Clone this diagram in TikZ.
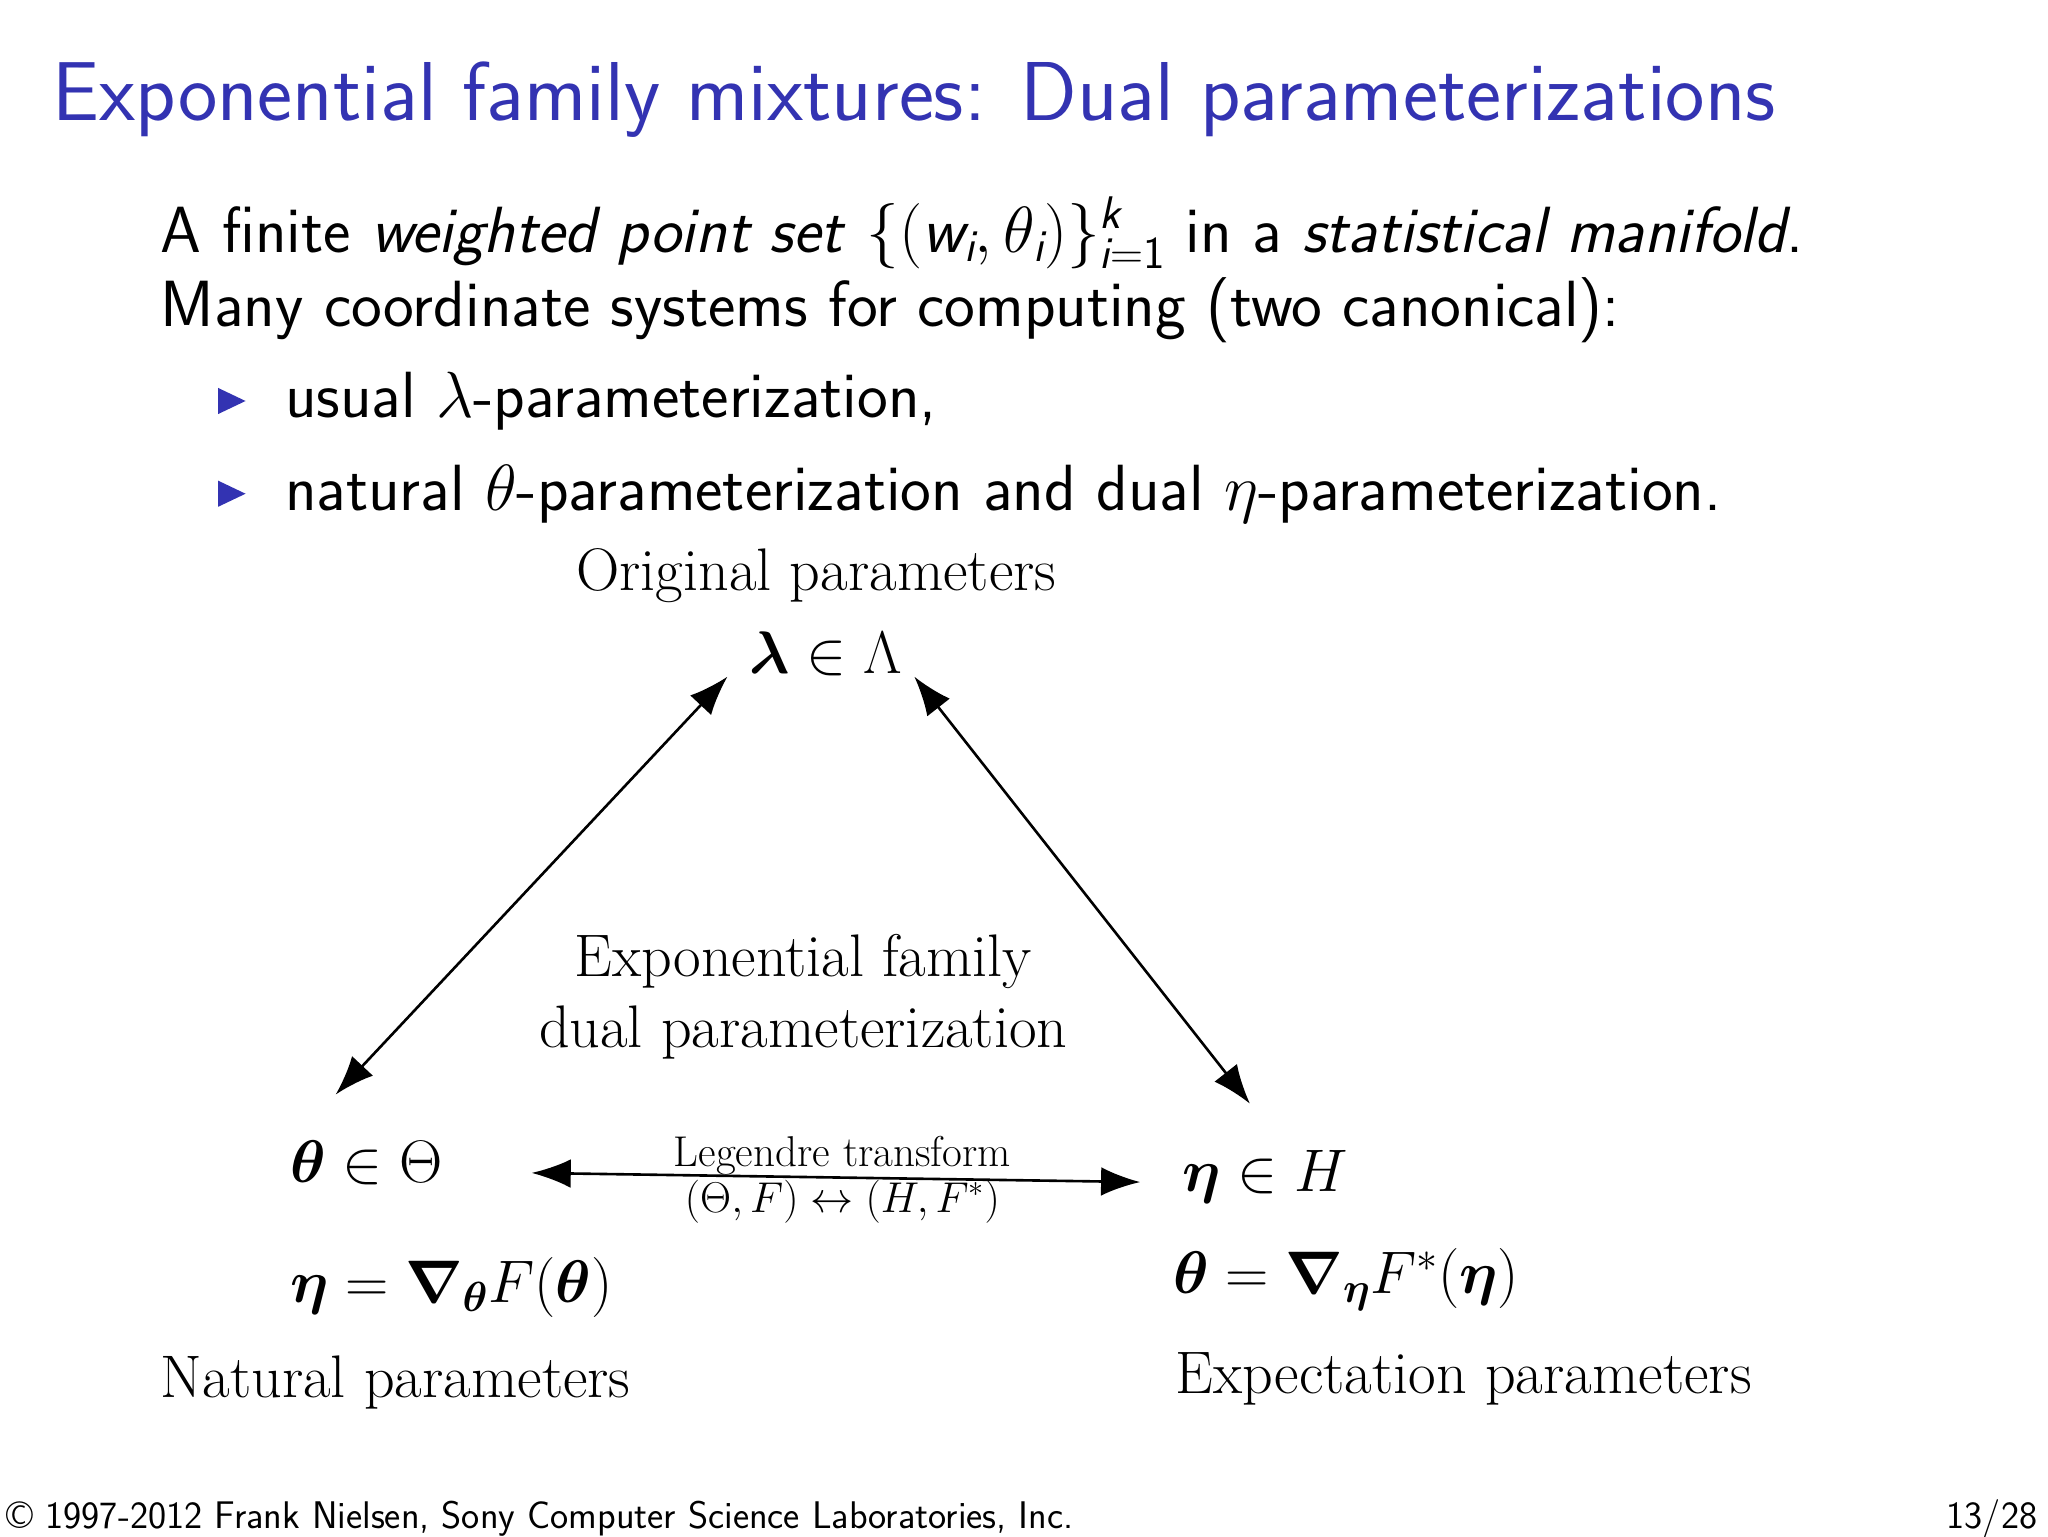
\documentclass[tikz,border=0pt]{standalone}
\usepackage{fix-cm}
\usepackage{amsmath,bm}
\usepackage{fontspec}
\usetikzlibrary{arrows.meta}
\definecolor{tblue}{RGB}{51,51,178}
\newcommand{\fs}[1]{\fontsize{#1}{#1}\selectfont}
\newcommand{\si}[1]{\text{\sffamily\itshape #1}}
\tikzset{
 txt/.style={anchor=base west,inner sep=0},
 ctr/.style={anchor=base,inner sep=0},
 arr/.style={line width=2pt,{Latex[length=30pt,width=22pt]}-{Latex[length=30pt,width=22pt]}}
}
\begin{document}
\begin{tikzpicture}[x=1pt,y=-1pt]
\useasboundingbox[fill=white] (0,0) rectangle (1568,1176);
\node[txt,text=tblue] (title) at (40,92) {\fs{64}\sffamily Exponential family mixtures: Dual parameterizations};
\node[txt] (l1) at (123,193) {\fs{50}\sffamily A finite \textit{weighted point set} $\{(\si{w}_{\si{i}},\theta_{\si{i}})\}_{\si{i}\mathsf{=1}}^{\si{k}}$ in a \textit{statistical manifold}.};
\node[txt] (l2) at (123,250) {\fs{50}\sffamily Many coordinate systems for computing (two canonical):};
\fill[tblue] (167,297) -- (188,307) -- (167,317) -- cycle;
\node[txt] (b1) at (218,320) {\fs{50}\sffamily usual $\lambda$-parameterization,};
\fill[tblue] (167,368) -- (188,378) -- (167,388) -- cycle;
\node[txt] (b2) at (218,391) {\fs{50}\sffamily natural $\theta$-parameterization and dual $\eta$-parameterization.};
\node[ctr] (orig) at (625,452) {\fs{46}Original parameters};
\node[ctr] (lam) at (632,516) {\fs{46}$\bm{\lambda}\in\Lambda$};
\node[ctr] (ef1) at (615,748) {\fs{46}Exponential family};
\node[ctr] (ef2) at (615,802) {\fs{46}dual parameterization};
\node[txt] (th) at (222,905) {\fs{46}$\bm{\theta}\in\Theta$};
\node[txt] (eq1) at (222,997) {\fs{46}$\bm{\eta}=\bm{\nabla}_{\bm{\theta}}F(\bm{\theta})$};
\node[txt] (nat) at (123,1070) {\fs{46}Natural parameters};
\node[txt] (et) at (905,912) {\fs{46}$\bm{\eta}\in H$};
\node[txt] (eq2) at (898,990) {\fs{46}$\bm{\theta}=\bm{\nabla}_{\bm{\eta}}F^*(\bm{\eta})$};
\node[txt] (exp) at (900,1067) {\fs{46}Expectation parameters};
\node[ctr] (leg1) at (645,893) {\fs{33}Legendre transform};
\node[ctr] (leg2) at (645,928) {\fs{33}$(\Theta,F)\leftrightarrow(H,F^*)$};
\coordinate (a1) at (557,518); \coordinate (a2) at (257,838);
\coordinate (c1) at (700,518); \coordinate (c2) at (957,845);
\coordinate (d1) at (407,898); \coordinate (d2) at (873,905);
\draw[arr] (a1) -- (a2);
\draw[arr] (c1) -- (c2);
\draw[arr] (d1) -- (d2);
\node[txt] (foot) at (5,1170) {\fs{29.5}\sffamily \textcopyright\ 1997-2012 Frank Nielsen, Sony Computer Science Laboratories, Inc.};
\node[anchor=base east,inner sep=0] (pg) at (1560,1170) {\fs{29.5}\sffamily 13/28};
\end{tikzpicture}
\end{document}
